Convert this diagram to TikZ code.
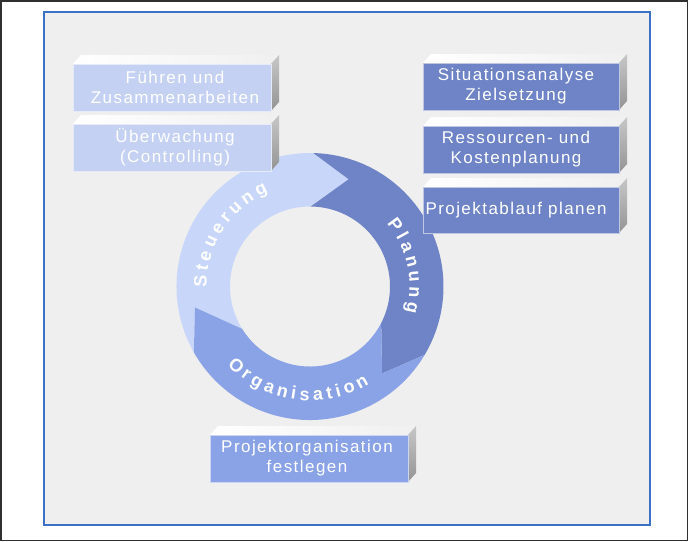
\documentclass[tikz,border=0pt]{standalone}
\usepackage{fontspec}
\setmainfont{Liberation Sans}
\newfontfamily\boxfont[LetterSpace=8.5]{Liberation Sans}
\newfontfamily\ringfont{Liberation Sans Bold}
\definecolor{bg}{HTML}{F0EFEF}
\definecolor{frameblue}{HTML}{3B70C4}
\definecolor{steucol}{HTML}{C8D7F9}
\definecolor{lightbox}{HTML}{C5D1F2}
\definecolor{plancol}{HTML}{6F84C6}
\definecolor{orgacol}{HTML}{8AA3E6}
\definecolor{edgedark}{HTML}{303030}

\def\rtsize{18}
\def\rtgapv{4}
\def\rtfont{\ringfont\fontsize{18}{21}\selectfont}
% #1 letter/width list (widths per 1000 em), #2 centre angle, #3 baseline radius,
% #4 direction (+1 ccw, -1 cw), #5 name prefix
\newcommand\ringtext[5]{%
  \gdef\rttot{0}%
  \foreach \c/\w in {#1}{\pgfmathsetmacro\rtt{\rttot+\w*\rtsize/1000+\rtgapv}\global\let\rttot\rtt}%
  \pgfmathsetmacro\rtstart{#2-(#4)*((\rttot-\rtgapv)/2)/(#3)*180/pi}%
  \gdef\rtpos{0}%
  \foreach \c/\w [count=\i] in {#1}{%
    \pgfmathsetmacro\rta{\rtstart+(#4)*(\rtpos+\w*\rtsize/2000)/(#3)*180/pi}%
    \pgfmathsetmacro\rtrot{\rta+90*(#4)}%
    \node[ringletter, rotate=\rtrot] (#5\i) at (\rta:#3) {\c};
    \pgfmathsetmacro\rtt{\rtpos+\w*\rtsize/1000+\rtgapv}\global\let\rtpos\rtt
  }%
}
% #1 x1, #2 y1, #3 x2, #4 y2 (image coords of the front face), #5 colour, #6 name, #7 text centre x, #8 text
\newcommand\boxthreed[8]{%
  \shade[left color=white, right color=black!6] (#1,-#2) -- (#1+8,-#2+9) -- (#3+8,-#2+9) -- (#3,-#2) -- cycle;
  \shade[top color=black!22, bottom color=black!42] (#3,-#2) -- (#3+8,-#2+9) -- (#3+8,-#4+9) -- (#3,-#4) -- cycle;
  \fill[#5, draw=#5!45!white, line width=1pt] (#1,-#2) rectangle (#3,-#4);
  \node[boxtext] (#6) at (#7,{-(#2+#4)/2}) {#8};
}

\begin{document}
\begin{tikzpicture}[x=1pt, y=1pt,
  ringletter/.style={inner sep=0pt, anchor=base, text=white, font=\rtfont},
  boxtext/.style={inner sep=0pt, text=white, align=center, font=\boxfont\fontsize{17}{20}\selectfont}]
\useasboundingbox (0,0) rectangle (688,-541);
\fill[white] (0,0) rectangle (688,-541);
\draw[edgedark, line width=1.5pt] (0.75,-0.75) rectangle (687.25,-540.25);
\draw[frameblue, line width=2pt, fill=bg] (44,-12) rectangle (650,-525);

\begin{scope}[shift={(310,-286.5)}]
  \fill[steucol] (209.6:133.5) arc[start angle=209.6, end angle=88.6, radius=133.5]
    -- (70.2:114) -- (89.5:80) arc[start angle=89.5, end angle=212, radius=80]
    -- (190.3:117) -- cycle;
  \fill[plancol] (88.6:133.5) arc[start angle=88.6, end angle=-30.8, radius=133.5]
    -- (-50.4:113) -- (-27.2:80) arc[start angle=-27.2, end angle=89.5, radius=80]
    -- (70.2:114) -- cycle;
  \fill[orgacol] (-30.8:133.5) arc[start angle=-30.8, end angle=-150.4, radius=133.5]
    -- (-169.7:117) -- (-148:80) arc[start angle=-148, end angle=-27.2, radius=80]
    -- (-50.4:113) -- cycle;
  \ringtext{S/667,t/333,e/556,u/611,e/556,r/389,u/611,n/611,g/611}{147.3}{103.5}{-1}{st}
  \ringtext{P/667,l/278,a/556,n/611,u/611,n/611,g/611}{12.2}{99.5}{-1}{pl}
  \ringtext{O/778,r/389,g/611,a/556,n/611,i/278,s/556,a/556,t/333,i/278,o/611,n/611}{-97.6}{114}{1}{or}
\end{scope}

\boxthreed{73}{64}{271}{111}{lightbox}{fuehren}{175}{Führen und\\Zusammenarbeiten}
\boxthreed{73}{124}{271}{171}{lightbox}{ueberw}{175}{Überwachung\\(Controlling)}
\boxthreed{423}{63}{619}{110}{plancol}{situation}{516}{Situationsanalyse\\Zielsetzung}
\boxthreed{423}{126}{619}{173}{plancol}{ressourcen}{516}{Ressourcen- und\\Kostenplanung}
\boxthreed{423}{187}{619}{233}{plancol}{ablauf}{516}{Projektablauf planen}
\boxthreed{210}{435}{408}{482}{orgacol}{projorg}{307}{Projektorganisation\\festlegen}
\end{tikzpicture}
\end{document}
